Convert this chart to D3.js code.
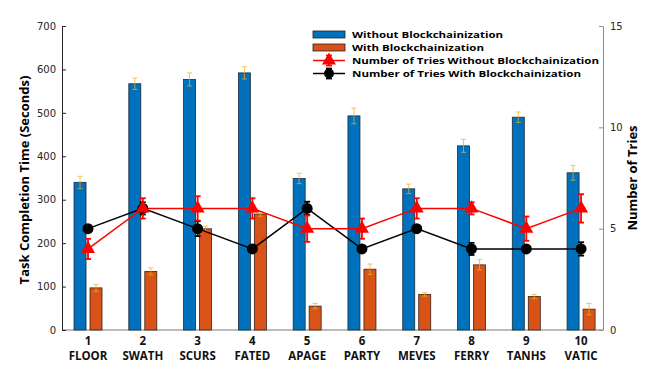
<!DOCTYPE html>
<html>
<head>
<meta charset="utf-8">
<script src="https://cdn.jsdelivr.net/npm/d3@7"></script>
<style>
  body { margin: 0; background: #fff; }
  svg { display: block; }
</style>
</head>
<body>
<div id="chart"></div>
<script>
var ids = [1, 2, 3, 4, 5, 6, 7, 8, 9, 10];
var words = ["FLOOR", "SWATH", "SCURS", "FATED", "APAGE", "PARTY", "MEVES", "FERRY", "TANHS", "VATIC"];

// task completion time (seconds)
var timeWithout = [340, 567, 577, 592, 349, 493, 325, 424, 490, 362];
var errWithout = [14, 13, 15, 14, 12, 18, 11, 15, 12, 17];
var timeWith = [97, 135, 233, 267, 55, 140, 82, 150, 77, 48];
var errWith = [8, 8, 6, 5, 6, 12, 4, 12, 5, 13];

// number of tries
var triesWithout = [4, 6, 6, 6, 5, 5, 6, 6, 5, 6];
var triesWithoutErr = [0.5, 0.5, 0.6, 0.5, 0.65, 0.5, 0.5, 0.3, 0.6, 0.7];
var triesWith = [5, 6, 5, 4, 6, 4, 5, 4, 4, 4];
var triesWithErr = [0, 0.3, 0.37, 0, 0.33, 0, 0, 0.3, 0, 0.33];

var leftTicks = [0, 100, 200, 300, 400, 500, 600, 700];
var rightTicks = [0, 5, 10, 15];

var width = 654, height = 369;
var margin = {top: 26, bottom: 39, left: 62, right: 51};

var blue = "#0072BD", orange = "#D95319", gold = "#EDB120";

var svg = d3.select("#chart").append("svg")
    .attr("width", width)
    .attr("height", height);

var x = d3.scaleLinear()
    .domain([0.525, 10.4])
    .range([margin.left, width - margin.right]);

var yL = d3.scaleLinear()
    .domain([0, 700])
    .range([height - margin.bottom, margin.top]);

var yR = d3.scaleLinear()
    .domain([0, 15])
    .range([height - margin.bottom, margin.top]);

var data = ids.map(function (id, i) {
    return {
        id: id, word: words[i],
        a: timeWithout[i], ae: errWithout[i],
        b: timeWith[i], be: errWith[i],
        r: triesWithout[i], re: triesWithoutErr[i],
        k: triesWith[i], ke: triesWithErr[i]
    };
});

var off = 8, bw = 12;

// bottom axis line
svg.append("line")
    .attr("x1", margin.left).attr("x2", width - margin.right)
    .attr("y1", yL(0)).attr("y2", yL(0))
    .attr("stroke", "#a6a6a6").attr("stroke-width", 1.5);

// bars
svg.selectAll(".barA").data(data).enter().append("rect")
    .attr("class", "barA")
    .attr("x", function (d) { return x(d.id) - off - bw / 2; })
    .attr("y", function (d) { return yL(d.a); })
    .attr("width", bw)
    .attr("height", function (d) { return yL(0) - yL(d.a); })
    .attr("fill", blue)
    .attr("stroke", "#1c2a3a").attr("stroke-width", 0.8);

svg.selectAll(".barB").data(data).enter().append("rect")
    .attr("class", "barB")
    .attr("x", function (d) { return x(d.id) + off - bw / 2; })
    .attr("y", function (d) { return yL(d.b); })
    .attr("width", bw)
    .attr("height", function (d) { return yL(0) - yL(d.b); })
    .attr("fill", orange)
    .attr("stroke", "#3a2218").attr("stroke-width", 0.8);

function errBar(g, cx, y0, y1, cap, color, sw) {
    g.append("line").attr("x1", cx).attr("x2", cx).attr("y1", y0).attr("y2", y1)
        .attr("stroke", color).attr("stroke-width", sw);
    [y0, y1].forEach(function (yy) {
        g.append("line").attr("x1", cx - cap).attr("x2", cx + cap).attr("y1", yy).attr("y2", yy)
            .attr("stroke", color).attr("stroke-width", sw);
    });
}

var errG = svg.append("g").attr("opacity", 0.75);
data.forEach(function (d) {
    errBar(errG, x(d.id) - off, yL(d.a + d.ae), yL(d.a - d.ae), 2.5, gold, 1);
    errBar(errG, x(d.id) + off, yL(d.b + d.be), yL(d.b - d.be), 2.5, gold, 1);
});

// lines
var line = function (key) {
    return d3.line()
        .x(function (d) { return x(d.id); })
        .y(function (d) { return yR(d[key]); });
};

svg.append("path").datum(data)
    .attr("d", line("k"))
    .attr("fill", "none").attr("stroke", "#000").attr("stroke-width", 1.5);

svg.append("path").datum(data)
    .attr("d", line("r"))
    .attr("fill", "none").attr("stroke", "#ff0000").attr("stroke-width", 1.5);

data.forEach(function (d) {
    if (d.ke > 0) errBar(svg, x(d.id), yR(d.k + d.ke), yR(d.k - d.ke), 3, "#000", 1.8);
    errBar(svg, x(d.id), yR(d.r + d.re), yR(d.r - d.re), 3, "#ff0000", 1.8);
});

svg.selectAll(".dotK").data(data).enter().append("circle")
    .attr("cx", function (d) { return x(d.id); })
    .attr("cy", function (d) { return yR(d.k); })
    .attr("r", 5.5)
    .attr("fill", "#000");

var tri = d3.symbol().type(d3.symbolTriangle).size(85);
svg.selectAll(".dotR").data(data).enter().append("path")
    .attr("d", tri)
    .attr("transform", function (d) { return "translate(" + x(d.id) + "," + yR(d.r) + ")"; })
    .attr("fill", "#ff0000");

// left axis
var axL = svg.append("g")
    .attr("transform", "translate(" + margin.left + ",0)")
    .call(d3.axisLeft(yL).tickValues(leftTicks).tickSizeInner(-4).tickSizeOuter(0).tickPadding(6));
axL.select(".domain").attr("stroke", "#262626");
axL.selectAll(".tick line").attr("stroke", "#262626");
axL.selectAll("text").attr("font-family", "DejaVu Sans").attr("font-size", 10).attr("fill", "#262626");

// right axis
var axR = svg.append("g")
    .attr("transform", "translate(" + (width - margin.right) + ",0)")
    .call(d3.axisRight(yR).tickValues(rightTicks).tickSizeInner(-4).tickSizeOuter(0).tickPadding(7));
axR.select(".domain").attr("stroke", "#8c8c8c");
axR.selectAll(".tick line").attr("stroke", "#8c8c8c");
axR.selectAll("text").attr("font-family", "DejaVu Sans").attr("font-size", 10).attr("fill", "#262626");

// x labels
var xl = svg.append("g").attr("font-family", "Open Sans").attr("font-weight", "bold")
    .attr("font-size", 11.5).attr("text-anchor", "middle").attr("fill", "#111");
data.forEach(function (d) {
    xl.append("text").attr("x", x(d.id)).attr("y", yL(0) + 15).text(d.id);
    xl.append("text").attr("x", x(d.id)).attr("y", yL(0) + 30).text(d.word);
});

// axis titles
svg.append("text")
    .attr("transform", "translate(29," + ((margin.top + height - margin.bottom) / 2 + 2) + ") rotate(-90)")
    .attr("text-anchor", "middle")
    .attr("font-family", "Open Sans").attr("font-weight", "bold").attr("font-size", 13)
    .attr("fill", "#000")
    .text("Task Completion Time (Seconds)");

svg.append("text")
    .attr("transform", "translate(637,178) rotate(-90)")
    .attr("text-anchor", "middle")
    .attr("font-family", "Open Sans").attr("font-weight", "bold").attr("font-size", 13)
    .attr("fill", "#000")
    .text("Number of Tries");

// legend
var legendItems = [
    {label: "Without Blockchainization", type: "bar", color: blue, y: 34.5, w: 151},
    {label: "With Blockchainization", type: "bar", color: orange, y: 47.5, w: 132},
    {label: "Number of Tries Without Blockchainization", type: "tri", color: "#ff0000", y: 60.5, w: 247},
    {label: "Number of Tries With Blockchainization", type: "dot", color: "#000", y: 73.5, w: 229}
];
var lg = svg.append("g");
legendItems.forEach(function (it) {
    if (it.type == "bar") {
        lg.append("rect").attr("x", 313).attr("y", it.y - 3.5).attr("width", 32).attr("height", 7)
            .attr("fill", it.color).attr("stroke", "#222").attr("stroke-width", 0.8);
    } else {
        lg.append("line").attr("x1", 313).attr("x2", 345).attr("y1", it.y).attr("y2", it.y)
            .attr("stroke", it.color).attr("stroke-width", 1.5);
        errBar(lg, 329, it.y - 5, it.y + 5, 3, it.color, 1.8);
        if (it.type == "tri") {
            lg.append("path").attr("d", tri).attr("transform", "translate(329," + it.y + ")").attr("fill", it.color);
        } else {
            lg.append("circle").attr("cx", 329).attr("cy", it.y).attr("r", 5).attr("fill", it.color);
        }
    }
    lg.append("text").attr("x", 352).attr("y", it.y + 3.5)
        .attr("font-family", "Open Sans").attr("font-weight", "bold").attr("font-size", 9.5)
        .attr("textLength", it.w).attr("lengthAdjust", "spacingAndGlyphs")
        .attr("fill", "#000")
        .text(it.label);
});
</script>
</body>
</html>
